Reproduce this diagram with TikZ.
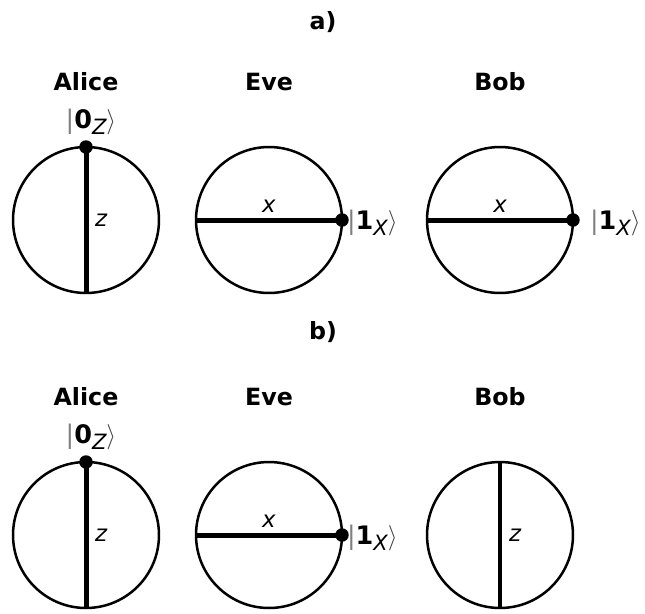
\documentclass[tikz,border=0pt]{standalone}
\usepackage{fontspec}
\setmainfont{DejaVu Sans}
\usetikzlibrary{positioning}

\newcommand{\ketof}[2]{{\color{gray}|}\textbf{#1}\raisebox{-0.45ex}{\fontsize{12}{14}\selectfont\itshape #2}{\color{darkgray}$\rangle$}}

\begin{document}
\begin{tikzpicture}[
                    x=0.02cm, y=-0.02cm,
                    qubit/.style={draw, circle, line width=0.05cm, minimum size=2.92cm, inner sep=0pt, outer sep=0pt},
                    who/.style={font=\fontsize{13.5}{15}\selectfont\bfseries},
                    basis/.style={line width=0.1cm},
                    dot/.style={circle, fill=black, inner sep=0pt, minimum size=0.27cm},
                    ket/.style={font=\fontsize{14.5}{16}\selectfont, inner sep=1pt},
                    axis/.style={font=\fontsize{13}{15}\selectfont\itshape, inner sep=2pt}
                ]
                \useasboundingbox (0,0) rectangle (645,613);

                \node[who] (parta) at (323,22) {a)};
                \node[who] (partb) at (323,332) {b)};

                \foreach \r/\y in {a/220, b/535}{
                        \node[qubit] (alice\r) at (86,\y) {};
                        \node[qubit] (eve\r) at (269,\y) {};
                        \node[qubit] (bob\r) at (500,\y) {};
                        \node[who] (na\r) at (86,\y-138) {Alice};
                        \node[who] (ne\r) at (269,\y-138) {Eve};
                        \node[who] (nb\r) at (500,\y-138) {Bob};
                        % Alice prepares |0> in z
                        \draw[basis] (alice\r.north) -- (alice\r.south);
                        \node[dot] (da\r) at (alice\r.north) {};
                        \node[axis, anchor=west, xshift=3pt] (za\r) at (alice\r.center) {z};
                        \node[ket, above=0.06cm of da\r, xshift=0.1cm] (ka\r) {\ketof{0}{Z}};
                        % Eve measures in x
                        \draw[basis] (eve\r.west) -- (eve\r.east);
                        \node[dot] (de\r) at (eve\r.east) {};
                        \node[axis, anchor=south, yshift=2pt] (xe\r) at (eve\r.center) {x};
                        \node[ket, anchor=west, xshift=0.06cm, yshift=-0.05cm] (ke\r) at (eve\r.east) {\ketof{1}{X}};
                    }

                % Bob, case a)
                \draw[basis] (boba.west) -- (boba.east);
                \node[dot] (dba) at (boba.east) {};
                \node[axis, anchor=south, yshift=2pt] (xba) at (boba.center) {x};
                \node[ket, anchor=west, xshift=0.3cm, yshift=-0.05cm] (kba) at (boba.east) {\ketof{1}{X}};

                % Bob, case b)
                \draw[line width=0.08cm] (bobb.north) -- (bobb.south);
                \node[axis, anchor=west, xshift=3pt] (zbb) at (bobb.center) {z};
            \end{tikzpicture}
\end{document}
